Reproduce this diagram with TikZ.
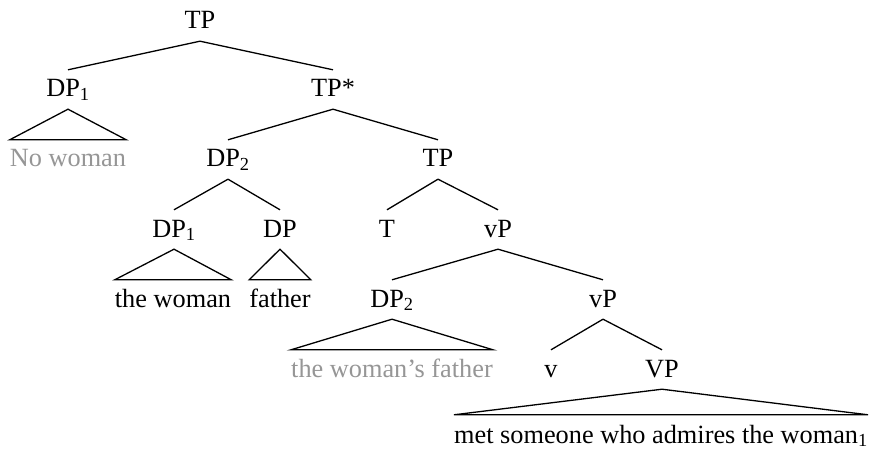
\documentclass[tikz,border=0pt]{standalone}
\usepackage{fontspec}
\setmainfont{Liberation Serif}
\definecolor{leafgray}{RGB}{150,150,150}
\begin{document}
\begin{tikzpicture}[x=1pt,y=-1pt,
  lab/.style={anchor=base,font=\fontsize{26.3}{30}\selectfont,text height=20pt,text depth=5pt,inner ysep=7pt,inner xsep=0pt},
  gleaf/.style={lab,text=leafgray},
  edge/.style={line width=1.3pt,line join=miter},
]
\useasboundingbox (0,0) rectangle (870,449);
% level 0
\node[lab] (tp) at (200,29) {TP};
% level 1
\node[lab] (dpa) at (68,97) {DP\textsubscript{1}};
\node[lab] (tps) at (333,97) {TP*};
\node[gleaf] (nowoman) at (68,167) {No woman};
% level 2
\node[lab] (dpb) at (228,167) {DP\textsubscript{2}};
\node[lab] (tpb) at (438,167) {TP};
% level 3
\node[lab] (dpc) at (174,237) {DP\textsubscript{1}};
\node[lab] (dpd) at (280,237) {DP};
\node[lab] (t) at (387,237) {T};
\node[lab] (vpa) at (498,237) {vP};
\node[lab] (thewoman) at (173,307) {the woman};
\node[lab] (father) at (280,307) {father};
% level 4
\node[lab] (dpe) at (392,307) {DP\textsubscript{2}};
\node[lab] (vpb) at (603,307) {vP};
\node[gleaf] (twf) at (392,377) {the woman’s father};
% level 5
\node[lab] (v) at (551,377) {v};
\node[lab] (vp) at (662,377) {VP};
\node[lab,text depth=3pt,inner ysep=8pt] (met) at (661,443) {met someone who admires the woman\textsubscript{1}};
% edges
\draw[edge] (tp.south) -- (dpa.north);
\draw[edge] (tp.south) -- (tps.north);
\draw[edge] (tps.south) -- (dpb.north);
\draw[edge] (tps.south) -- (tpb.north);
\draw[edge] (dpb.south) -- (dpc.north);
\draw[edge] (dpb.south) -- (dpd.north);
\draw[edge] (tpb.south) -- (t.north);
\draw[edge] (tpb.south) -- (vpa.north);
\draw[edge] (vpa.south) -- (dpe.north);
\draw[edge] (vpa.south) -- (vpb.north);
\draw[edge] (vpb.south) -- (v.north);
\draw[edge] (vpb.south) -- (vp.north);
% triangles
\draw[edge] (dpa.south) -- (nowoman.north west) -- (nowoman.north east) -- cycle;
\draw[edge] (dpc.south) -- (thewoman.north west) -- (thewoman.north east) -- cycle;
\draw[edge] (dpd.south) -- (father.north west) -- (father.north east) -- cycle;
\draw[edge] (dpe.south) -- (twf.north west) -- (twf.north east) -- cycle;
\draw[edge] (vp.south) -- (met.north west) -- (met.north east) -- cycle;
\end{tikzpicture}
\end{document}
